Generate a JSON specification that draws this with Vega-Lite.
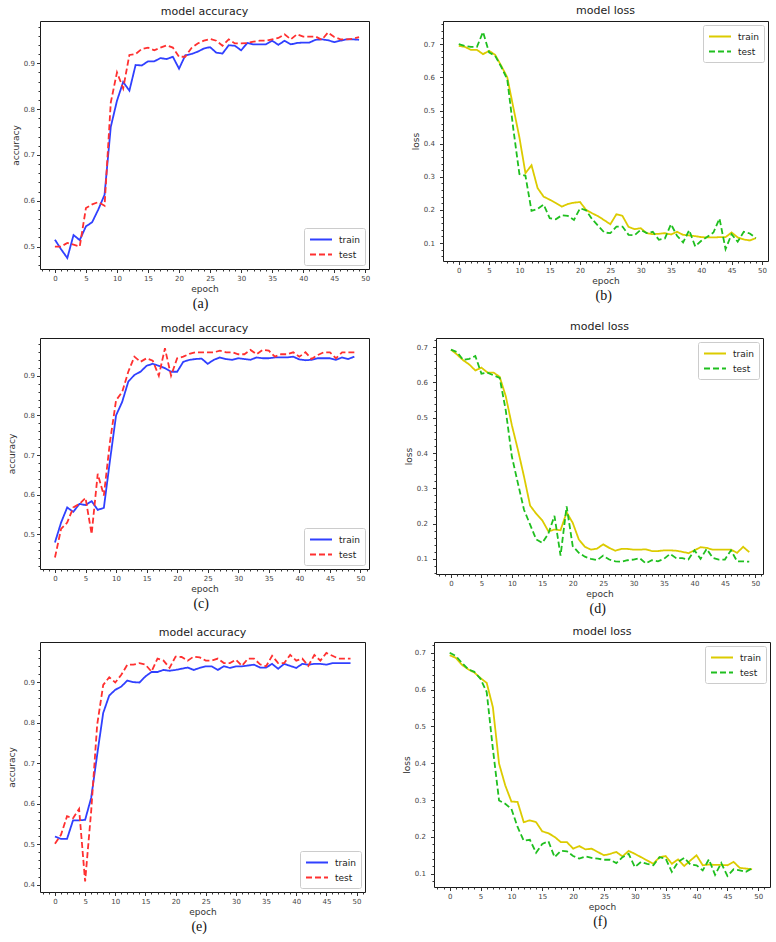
{
"$schema": "https://vega.github.io/schema/vega-lite/v6.json",
"padding": {"left": 6, "top": 4, "right": 2, "bottom": 2},
"background": "white",
"config": {
  "font": "DejaVu Sans",
  "view": {"stroke": "#1a1a1a", "strokeWidth": 1},
  "axis": {"grid": false, "domain": false, "labelFont": "DejaVu Sans", "labelFontSize": 7, "labelColor": "#444", "tickColor": "#333", "titleFont": "DejaVu Sans", "titleFontSize": 9, "titleFontWeight": "normal", "titleColor": "#333", "labelPadding": 2, "titlePadding": 3, "labelOverlap": false, "labelFlush": false},
  "title": {"font": "DejaVu Sans", "fontSize": 11, "fontWeight": "normal", "color": "#222", "frame": "group", "offset": 4},
  "legend": {"symbolType": "M-1,0H3", "symbolSize": 121, "symbolStrokeWidth": 1.8, "labelFont": "DejaVu Sans", "labelFontSize": 9, "labelColor": "#222", "fillColor": "white", "strokeColor": "#cccccc", "padding": 5, "cornerRadius": 2, "offset": 4, "rowPadding": 3, "labelOffset": 17, "title": null}
},
"datasets": {
"a": [
{"epoch":0,"series":"train","value":0.515},{"epoch":1,"series":"train","value":0.494},{"epoch":2,"series":"train","value":0.475},{"epoch":3,"series":"train","value":0.525},{"epoch":4,"series":"train","value":0.514},{"epoch":5,"series":"train","value":0.544},{"epoch":6,"series":"train","value":0.553},{"epoch":7,"series":"train","value":0.581},{"epoch":8,"series":"train","value":0.613},{"epoch":9,"series":"train","value":0.761},{"epoch":10,"series":"train","value":0.818},{"epoch":11,"series":"train","value":0.859},{"epoch":12,"series":"train","value":0.840},{"epoch":13,"series":"train","value":0.896},{"epoch":14,"series":"train","value":0.895},{"epoch":15,"series":"train","value":0.904},{"epoch":16,"series":"train","value":0.904},{"epoch":17,"series":"train","value":0.911},{"epoch":18,"series":"train","value":0.909},{"epoch":19,"series":"train","value":0.914},{"epoch":20,"series":"train","value":0.888},{"epoch":21,"series":"train","value":0.917},{"epoch":22,"series":"train","value":0.920},{"epoch":23,"series":"train","value":0.925},{"epoch":24,"series":"train","value":0.932},{"epoch":25,"series":"train","value":0.935},{"epoch":26,"series":"train","value":0.923},{"epoch":27,"series":"train","value":0.921},{"epoch":28,"series":"train","value":0.939},{"epoch":29,"series":"train","value":0.938},{"epoch":30,"series":"train","value":0.928},{"epoch":31,"series":"train","value":0.944},{"epoch":32,"series":"train","value":0.941},{"epoch":33,"series":"train","value":0.941},{"epoch":34,"series":"train","value":0.941},{"epoch":35,"series":"train","value":0.949},{"epoch":36,"series":"train","value":0.940},{"epoch":37,"series":"train","value":0.949},{"epoch":38,"series":"train","value":0.941},{"epoch":39,"series":"train","value":0.944},{"epoch":40,"series":"train","value":0.945},{"epoch":41,"series":"train","value":0.945},{"epoch":42,"series":"train","value":0.951},{"epoch":43,"series":"train","value":0.952},{"epoch":44,"series":"train","value":0.950},{"epoch":45,"series":"train","value":0.946},{"epoch":46,"series":"train","value":0.949},{"epoch":47,"series":"train","value":0.952},{"epoch":48,"series":"train","value":0.952},{"epoch":49,"series":"train","value":0.951},
{"epoch":0,"series":"test","value":0.500},{"epoch":1,"series":"test","value":0.500},{"epoch":2,"series":"test","value":0.508},{"epoch":3,"series":"test","value":0.504},{"epoch":4,"series":"test","value":0.500},{"epoch":5,"series":"test","value":0.584},{"epoch":6,"series":"test","value":0.592},{"epoch":7,"series":"test","value":0.597},{"epoch":8,"series":"test","value":0.589},{"epoch":9,"series":"test","value":0.814},{"epoch":10,"series":"test","value":0.880},{"epoch":11,"series":"test","value":0.845},{"epoch":12,"series":"test","value":0.918},{"epoch":13,"series":"test","value":0.920},{"epoch":14,"series":"test","value":0.931},{"epoch":15,"series":"test","value":0.934},{"epoch":16,"series":"test","value":0.928},{"epoch":17,"series":"test","value":0.934},{"epoch":18,"series":"test","value":0.939},{"epoch":19,"series":"test","value":0.934},{"epoch":20,"series":"test","value":0.914},{"epoch":21,"series":"test","value":0.914},{"epoch":22,"series":"test","value":0.933},{"epoch":23,"series":"test","value":0.943},{"epoch":24,"series":"test","value":0.949},{"epoch":25,"series":"test","value":0.953},{"epoch":26,"series":"test","value":0.949},{"epoch":27,"series":"test","value":0.938},{"epoch":28,"series":"test","value":0.952},{"epoch":29,"series":"test","value":0.943},{"epoch":30,"series":"test","value":0.943},{"epoch":31,"series":"test","value":0.944},{"epoch":32,"series":"test","value":0.947},{"epoch":33,"series":"test","value":0.949},{"epoch":34,"series":"test","value":0.949},{"epoch":35,"series":"test","value":0.952},{"epoch":36,"series":"test","value":0.955},{"epoch":37,"series":"test","value":0.963},{"epoch":38,"series":"test","value":0.952},{"epoch":39,"series":"test","value":0.963},{"epoch":40,"series":"test","value":0.958},{"epoch":41,"series":"test","value":0.958},{"epoch":42,"series":"test","value":0.958},{"epoch":43,"series":"test","value":0.951},{"epoch":44,"series":"test","value":0.967},{"epoch":45,"series":"test","value":0.957},{"epoch":46,"series":"test","value":0.952},{"epoch":47,"series":"test","value":0.952},{"epoch":48,"series":"test","value":0.953},{"epoch":49,"series":"test","value":0.957}
],
"b": [
{"epoch":0,"series":"train","value":0.695},{"epoch":1,"series":"train","value":0.692},{"epoch":2,"series":"train","value":0.683},{"epoch":3,"series":"train","value":0.683},{"epoch":4,"series":"train","value":0.670},{"epoch":5,"series":"train","value":0.680},{"epoch":6,"series":"train","value":0.668},{"epoch":7,"series":"train","value":0.635},{"epoch":8,"series":"train","value":0.600},{"epoch":9,"series":"train","value":0.509},{"epoch":10,"series":"train","value":0.419},{"epoch":11,"series":"train","value":0.311},{"epoch":12,"series":"train","value":0.335},{"epoch":13,"series":"train","value":0.266},{"epoch":14,"series":"train","value":0.240},{"epoch":15,"series":"train","value":0.231},{"epoch":16,"series":"train","value":0.221},{"epoch":17,"series":"train","value":0.210},{"epoch":18,"series":"train","value":0.218},{"epoch":19,"series":"train","value":0.222},{"epoch":20,"series":"train","value":0.224},{"epoch":21,"series":"train","value":0.200},{"epoch":22,"series":"train","value":0.190},{"epoch":23,"series":"train","value":0.181},{"epoch":24,"series":"train","value":0.169},{"epoch":25,"series":"train","value":0.157},{"epoch":26,"series":"train","value":0.187},{"epoch":27,"series":"train","value":0.182},{"epoch":28,"series":"train","value":0.149},{"epoch":29,"series":"train","value":0.142},{"epoch":30,"series":"train","value":0.145},{"epoch":31,"series":"train","value":0.130},{"epoch":32,"series":"train","value":0.127},{"epoch":33,"series":"train","value":0.128},{"epoch":34,"series":"train","value":0.130},{"epoch":35,"series":"train","value":0.126},{"epoch":36,"series":"train","value":0.134},{"epoch":37,"series":"train","value":0.125},{"epoch":38,"series":"train","value":0.123},{"epoch":39,"series":"train","value":0.121},{"epoch":40,"series":"train","value":0.118},{"epoch":41,"series":"train","value":0.117},{"epoch":42,"series":"train","value":0.117},{"epoch":43,"series":"train","value":0.118},{"epoch":44,"series":"train","value":0.118},{"epoch":45,"series":"train","value":0.132},{"epoch":46,"series":"train","value":0.117},{"epoch":47,"series":"train","value":0.111},{"epoch":48,"series":"train","value":0.108},{"epoch":49,"series":"train","value":0.115},
{"epoch":0,"series":"test","value":0.700},{"epoch":1,"series":"test","value":0.695},{"epoch":2,"series":"test","value":0.692},{"epoch":3,"series":"test","value":0.692},{"epoch":4,"series":"test","value":0.737},{"epoch":5,"series":"test","value":0.675},{"epoch":6,"series":"test","value":0.665},{"epoch":7,"series":"test","value":0.632},{"epoch":8,"series":"test","value":0.594},{"epoch":9,"series":"test","value":0.444},{"epoch":10,"series":"test","value":0.308},{"epoch":11,"series":"test","value":0.303},{"epoch":12,"series":"test","value":0.197},{"epoch":13,"series":"test","value":0.203},{"epoch":14,"series":"test","value":0.216},{"epoch":15,"series":"test","value":0.175},{"epoch":16,"series":"test","value":0.172},{"epoch":17,"series":"test","value":0.184},{"epoch":18,"series":"test","value":0.182},{"epoch":19,"series":"test","value":0.170},{"epoch":20,"series":"test","value":0.205},{"epoch":21,"series":"test","value":0.199},{"epoch":22,"series":"test","value":0.172},{"epoch":23,"series":"test","value":0.152},{"epoch":24,"series":"test","value":0.132},{"epoch":25,"series":"test","value":0.130},{"epoch":26,"series":"test","value":0.150},{"epoch":27,"series":"test","value":0.150},{"epoch":28,"series":"test","value":0.125},{"epoch":29,"series":"test","value":0.124},{"epoch":30,"series":"test","value":0.140},{"epoch":31,"series":"test","value":0.130},{"epoch":32,"series":"test","value":0.134},{"epoch":33,"series":"test","value":0.110},{"epoch":34,"series":"test","value":0.114},{"epoch":35,"series":"test","value":0.157},{"epoch":36,"series":"test","value":0.122},{"epoch":37,"series":"test","value":0.102},{"epoch":38,"series":"test","value":0.139},{"epoch":39,"series":"test","value":0.090},{"epoch":40,"series":"test","value":0.107},{"epoch":41,"series":"test","value":0.119},{"epoch":42,"series":"test","value":0.132},{"epoch":43,"series":"test","value":0.174},{"epoch":44,"series":"test","value":0.082},{"epoch":45,"series":"test","value":0.127},{"epoch":46,"series":"test","value":0.104},{"epoch":47,"series":"test","value":0.134},{"epoch":48,"series":"test","value":0.129},{"epoch":49,"series":"test","value":0.115}
],
"c": [
{"epoch":0,"series":"train","value":0.480},{"epoch":1,"series":"train","value":0.530},{"epoch":2,"series":"train","value":0.568},{"epoch":3,"series":"train","value":0.557},{"epoch":4,"series":"train","value":0.577},{"epoch":5,"series":"train","value":0.574},{"epoch":6,"series":"train","value":0.584},{"epoch":7,"series":"train","value":0.562},{"epoch":8,"series":"train","value":0.567},{"epoch":9,"series":"train","value":0.686},{"epoch":10,"series":"train","value":0.800},{"epoch":11,"series":"train","value":0.834},{"epoch":12,"series":"train","value":0.885},{"epoch":13,"series":"train","value":0.902},{"epoch":14,"series":"train","value":0.910},{"epoch":15,"series":"train","value":0.925},{"epoch":16,"series":"train","value":0.930},{"epoch":17,"series":"train","value":0.925},{"epoch":18,"series":"train","value":0.919},{"epoch":19,"series":"train","value":0.910},{"epoch":20,"series":"train","value":0.910},{"epoch":21,"series":"train","value":0.935},{"epoch":22,"series":"train","value":0.940},{"epoch":23,"series":"train","value":0.942},{"epoch":24,"series":"train","value":0.943},{"epoch":25,"series":"train","value":0.930},{"epoch":26,"series":"train","value":0.940},{"epoch":27,"series":"train","value":0.946},{"epoch":28,"series":"train","value":0.942},{"epoch":29,"series":"train","value":0.940},{"epoch":30,"series":"train","value":0.944},{"epoch":31,"series":"train","value":0.942},{"epoch":32,"series":"train","value":0.940},{"epoch":33,"series":"train","value":0.946},{"epoch":34,"series":"train","value":0.944},{"epoch":35,"series":"train","value":0.944},{"epoch":36,"series":"train","value":0.946},{"epoch":37,"series":"train","value":0.946},{"epoch":38,"series":"train","value":0.946},{"epoch":39,"series":"train","value":0.948},{"epoch":40,"series":"train","value":0.941},{"epoch":41,"series":"train","value":0.939},{"epoch":42,"series":"train","value":0.940},{"epoch":43,"series":"train","value":0.944},{"epoch":44,"series":"train","value":0.944},{"epoch":45,"series":"train","value":0.944},{"epoch":46,"series":"train","value":0.940},{"epoch":47,"series":"train","value":0.946},{"epoch":48,"series":"train","value":0.942},{"epoch":49,"series":"train","value":0.948},
{"epoch":0,"series":"test","value":0.442},{"epoch":1,"series":"test","value":0.514},{"epoch":2,"series":"test","value":0.530},{"epoch":3,"series":"test","value":0.568},{"epoch":4,"series":"test","value":0.577},{"epoch":5,"series":"test","value":0.592},{"epoch":6,"series":"test","value":0.501},{"epoch":7,"series":"test","value":0.653},{"epoch":8,"series":"test","value":0.598},{"epoch":9,"series":"test","value":0.733},{"epoch":10,"series":"test","value":0.838},{"epoch":11,"series":"test","value":0.859},{"epoch":12,"series":"test","value":0.910},{"epoch":13,"series":"test","value":0.948},{"epoch":14,"series":"test","value":0.935},{"epoch":15,"series":"test","value":0.944},{"epoch":16,"series":"test","value":0.938},{"epoch":17,"series":"test","value":0.900},{"epoch":18,"series":"test","value":0.969},{"epoch":19,"series":"test","value":0.900},{"epoch":20,"series":"test","value":0.944},{"epoch":21,"series":"test","value":0.948},{"epoch":22,"series":"test","value":0.955},{"epoch":23,"series":"test","value":0.959},{"epoch":24,"series":"test","value":0.959},{"epoch":25,"series":"test","value":0.959},{"epoch":26,"series":"test","value":0.959},{"epoch":27,"series":"test","value":0.963},{"epoch":28,"series":"test","value":0.959},{"epoch":29,"series":"test","value":0.959},{"epoch":30,"series":"test","value":0.954},{"epoch":31,"series":"test","value":0.954},{"epoch":32,"series":"test","value":0.965},{"epoch":33,"series":"test","value":0.954},{"epoch":34,"series":"test","value":0.965},{"epoch":35,"series":"test","value":0.963},{"epoch":36,"series":"test","value":0.948},{"epoch":37,"series":"test","value":0.954},{"epoch":38,"series":"test","value":0.954},{"epoch":39,"series":"test","value":0.959},{"epoch":40,"series":"test","value":0.948},{"epoch":41,"series":"test","value":0.959},{"epoch":42,"series":"test","value":0.942},{"epoch":43,"series":"test","value":0.952},{"epoch":44,"series":"test","value":0.959},{"epoch":45,"series":"test","value":0.959},{"epoch":46,"series":"test","value":0.944},{"epoch":47,"series":"test","value":0.959},{"epoch":48,"series":"test","value":0.959},{"epoch":49,"series":"test","value":0.959}
],
"d": [
{"epoch":0,"series":"train","value":0.693},{"epoch":1,"series":"train","value":0.679},{"epoch":2,"series":"train","value":0.663},{"epoch":3,"series":"train","value":0.651},{"epoch":4,"series":"train","value":0.634},{"epoch":5,"series":"train","value":0.642},{"epoch":6,"series":"train","value":0.628},{"epoch":7,"series":"train","value":0.628},{"epoch":8,"series":"train","value":0.616},{"epoch":9,"series":"train","value":0.561},{"epoch":10,"series":"train","value":0.479},{"epoch":11,"series":"train","value":0.409},{"epoch":12,"series":"train","value":0.333},{"epoch":13,"series":"train","value":0.251},{"epoch":14,"series":"train","value":0.228},{"epoch":15,"series":"train","value":0.209},{"epoch":16,"series":"train","value":0.178},{"epoch":17,"series":"train","value":0.183},{"epoch":18,"series":"train","value":0.181},{"epoch":19,"series":"train","value":0.232},{"epoch":20,"series":"train","value":0.202},{"epoch":21,"series":"train","value":0.155},{"epoch":22,"series":"train","value":0.134},{"epoch":23,"series":"train","value":0.126},{"epoch":24,"series":"train","value":0.129},{"epoch":25,"series":"train","value":0.141},{"epoch":26,"series":"train","value":0.131},{"epoch":27,"series":"train","value":0.123},{"epoch":28,"series":"train","value":0.128},{"epoch":29,"series":"train","value":0.128},{"epoch":30,"series":"train","value":0.126},{"epoch":31,"series":"train","value":0.126},{"epoch":32,"series":"train","value":0.127},{"epoch":33,"series":"train","value":0.122},{"epoch":34,"series":"train","value":0.122},{"epoch":35,"series":"train","value":0.124},{"epoch":36,"series":"train","value":0.124},{"epoch":37,"series":"train","value":0.123},{"epoch":38,"series":"train","value":0.120},{"epoch":39,"series":"train","value":0.116},{"epoch":40,"series":"train","value":0.124},{"epoch":41,"series":"train","value":0.133},{"epoch":42,"series":"train","value":0.131},{"epoch":43,"series":"train","value":0.126},{"epoch":44,"series":"train","value":0.126},{"epoch":45,"series":"train","value":0.126},{"epoch":46,"series":"train","value":0.126},{"epoch":47,"series":"train","value":0.117},{"epoch":48,"series":"train","value":0.134},{"epoch":49,"series":"train","value":0.119},
{"epoch":0,"series":"test","value":0.693},{"epoch":1,"series":"test","value":0.686},{"epoch":2,"series":"test","value":0.664},{"epoch":3,"series":"test","value":0.667},{"epoch":4,"series":"test","value":0.675},{"epoch":5,"series":"test","value":0.625},{"epoch":6,"series":"test","value":0.628},{"epoch":7,"series":"test","value":0.620},{"epoch":8,"series":"test","value":0.613},{"epoch":9,"series":"test","value":0.521},{"epoch":10,"series":"test","value":0.390},{"epoch":11,"series":"test","value":0.314},{"epoch":12,"series":"test","value":0.239},{"epoch":13,"series":"test","value":0.197},{"epoch":14,"series":"test","value":0.155},{"epoch":15,"series":"test","value":0.145},{"epoch":16,"series":"test","value":0.171},{"epoch":17,"series":"test","value":0.222},{"epoch":18,"series":"test","value":0.109},{"epoch":19,"series":"test","value":0.249},{"epoch":20,"series":"test","value":0.136},{"epoch":21,"series":"test","value":0.117},{"epoch":22,"series":"test","value":0.106},{"epoch":23,"series":"test","value":0.100},{"epoch":24,"series":"test","value":0.096},{"epoch":25,"series":"test","value":0.109},{"epoch":26,"series":"test","value":0.098},{"epoch":27,"series":"test","value":0.093},{"epoch":28,"series":"test","value":0.092},{"epoch":29,"series":"test","value":0.096},{"epoch":30,"series":"test","value":0.098},{"epoch":31,"series":"test","value":0.102},{"epoch":32,"series":"test","value":0.087},{"epoch":33,"series":"test","value":0.096},{"epoch":34,"series":"test","value":0.093},{"epoch":35,"series":"test","value":0.100},{"epoch":36,"series":"test","value":0.114},{"epoch":37,"series":"test","value":0.102},{"epoch":38,"series":"test","value":0.102},{"epoch":39,"series":"test","value":0.098},{"epoch":40,"series":"test","value":0.124},{"epoch":41,"series":"test","value":0.100},{"epoch":42,"series":"test","value":0.128},{"epoch":43,"series":"test","value":0.103},{"epoch":44,"series":"test","value":0.098},{"epoch":45,"series":"test","value":0.098},{"epoch":46,"series":"test","value":0.124},{"epoch":47,"series":"test","value":0.093},{"epoch":48,"series":"test","value":0.093},{"epoch":49,"series":"test","value":0.092}
],
"e": [
{"epoch":0,"series":"train","value":0.519},{"epoch":1,"series":"train","value":0.513},{"epoch":2,"series":"train","value":0.513},{"epoch":3,"series":"train","value":0.559},{"epoch":4,"series":"train","value":0.559},{"epoch":5,"series":"train","value":0.560},{"epoch":6,"series":"train","value":0.614},{"epoch":7,"series":"train","value":0.721},{"epoch":8,"series":"train","value":0.824},{"epoch":9,"series":"train","value":0.867},{"epoch":10,"series":"train","value":0.881},{"epoch":11,"series":"train","value":0.889},{"epoch":12,"series":"train","value":0.904},{"epoch":13,"series":"train","value":0.900},{"epoch":14,"series":"train","value":0.899},{"epoch":15,"series":"train","value":0.914},{"epoch":16,"series":"train","value":0.925},{"epoch":17,"series":"train","value":0.925},{"epoch":18,"series":"train","value":0.930},{"epoch":19,"series":"train","value":0.928},{"epoch":20,"series":"train","value":0.930},{"epoch":21,"series":"train","value":0.933},{"epoch":22,"series":"train","value":0.936},{"epoch":23,"series":"train","value":0.930},{"epoch":24,"series":"train","value":0.935},{"epoch":25,"series":"train","value":0.939},{"epoch":26,"series":"train","value":0.939},{"epoch":27,"series":"train","value":0.930},{"epoch":28,"series":"train","value":0.939},{"epoch":29,"series":"train","value":0.935},{"epoch":30,"series":"train","value":0.939},{"epoch":31,"series":"train","value":0.939},{"epoch":32,"series":"train","value":0.941},{"epoch":33,"series":"train","value":0.943},{"epoch":34,"series":"train","value":0.936},{"epoch":35,"series":"train","value":0.936},{"epoch":36,"series":"train","value":0.945},{"epoch":37,"series":"train","value":0.933},{"epoch":38,"series":"train","value":0.945},{"epoch":39,"series":"train","value":0.940},{"epoch":40,"series":"train","value":0.935},{"epoch":41,"series":"train","value":0.945},{"epoch":42,"series":"train","value":0.943},{"epoch":43,"series":"train","value":0.945},{"epoch":44,"series":"train","value":0.945},{"epoch":45,"series":"train","value":0.943},{"epoch":46,"series":"train","value":0.947},{"epoch":47,"series":"train","value":0.947},{"epoch":48,"series":"train","value":0.947},{"epoch":49,"series":"train","value":0.947},
{"epoch":0,"series":"test","value":0.501},{"epoch":1,"series":"test","value":0.523},{"epoch":2,"series":"test","value":0.569},{"epoch":3,"series":"test","value":0.564},{"epoch":4,"series":"test","value":0.587},{"epoch":5,"series":"test","value":0.408},{"epoch":6,"series":"test","value":0.581},{"epoch":7,"series":"test","value":0.795},{"epoch":8,"series":"test","value":0.893},{"epoch":9,"series":"test","value":0.912},{"epoch":10,"series":"test","value":0.899},{"epoch":11,"series":"test","value":0.918},{"epoch":12,"series":"test","value":0.943},{"epoch":13,"series":"test","value":0.943},{"epoch":14,"series":"test","value":0.947},{"epoch":15,"series":"test","value":0.943},{"epoch":16,"series":"test","value":0.926},{"epoch":17,"series":"test","value":0.958},{"epoch":18,"series":"test","value":0.953},{"epoch":19,"series":"test","value":0.935},{"epoch":20,"series":"test","value":0.963},{"epoch":21,"series":"test","value":0.962},{"epoch":22,"series":"test","value":0.953},{"epoch":23,"series":"test","value":0.963},{"epoch":24,"series":"test","value":0.961},{"epoch":25,"series":"test","value":0.953},{"epoch":26,"series":"test","value":0.953},{"epoch":27,"series":"test","value":0.958},{"epoch":28,"series":"test","value":0.947},{"epoch":29,"series":"test","value":0.947},{"epoch":30,"series":"test","value":0.955},{"epoch":31,"series":"test","value":0.940},{"epoch":32,"series":"test","value":0.958},{"epoch":33,"series":"test","value":0.958},{"epoch":34,"series":"test","value":0.944},{"epoch":35,"series":"test","value":0.939},{"epoch":36,"series":"test","value":0.965},{"epoch":37,"series":"test","value":0.947},{"epoch":38,"series":"test","value":0.947},{"epoch":39,"series":"test","value":0.967},{"epoch":40,"series":"test","value":0.953},{"epoch":41,"series":"test","value":0.958},{"epoch":42,"series":"test","value":0.940},{"epoch":43,"series":"test","value":0.967},{"epoch":44,"series":"test","value":0.953},{"epoch":45,"series":"test","value":0.972},{"epoch":46,"series":"test","value":0.965},{"epoch":47,"series":"test","value":0.958},{"epoch":48,"series":"test","value":0.958},{"epoch":49,"series":"test","value":0.958}
],
"f": [
{"epoch":0,"series":"train","value":0.693},{"epoch":1,"series":"train","value":0.686},{"epoch":2,"series":"train","value":0.667},{"epoch":3,"series":"train","value":0.655},{"epoch":4,"series":"train","value":0.646},{"epoch":5,"series":"train","value":0.631},{"epoch":6,"series":"train","value":0.618},{"epoch":7,"series":"train","value":0.552},{"epoch":8,"series":"train","value":0.399},{"epoch":9,"series":"train","value":0.340},{"epoch":10,"series":"train","value":0.296},{"epoch":11,"series":"train","value":0.295},{"epoch":12,"series":"train","value":0.240},{"epoch":13,"series":"train","value":0.245},{"epoch":14,"series":"train","value":0.240},{"epoch":15,"series":"train","value":0.215},{"epoch":16,"series":"train","value":0.210},{"epoch":17,"series":"train","value":0.200},{"epoch":18,"series":"train","value":0.186},{"epoch":19,"series":"train","value":0.186},{"epoch":20,"series":"train","value":0.168},{"epoch":21,"series":"train","value":0.175},{"epoch":22,"series":"train","value":0.166},{"epoch":23,"series":"train","value":0.168},{"epoch":24,"series":"train","value":0.159},{"epoch":25,"series":"train","value":0.150},{"epoch":26,"series":"train","value":0.154},{"epoch":27,"series":"train","value":0.159},{"epoch":28,"series":"train","value":0.147},{"epoch":29,"series":"train","value":0.162},{"epoch":30,"series":"train","value":0.154},{"epoch":31,"series":"train","value":0.145},{"epoch":32,"series":"train","value":0.136},{"epoch":33,"series":"train","value":0.127},{"epoch":34,"series":"train","value":0.145},{"epoch":35,"series":"train","value":0.148},{"epoch":36,"series":"train","value":0.127},{"epoch":37,"series":"train","value":0.139},{"epoch":38,"series":"train","value":0.121},{"epoch":39,"series":"train","value":0.136},{"epoch":40,"series":"train","value":0.150},{"epoch":41,"series":"train","value":0.123},{"epoch":42,"series":"train","value":0.125},{"epoch":43,"series":"train","value":0.124},{"epoch":44,"series":"train","value":0.124},{"epoch":45,"series":"train","value":0.123},{"epoch":46,"series":"train","value":0.132},{"epoch":47,"series":"train","value":0.116},{"epoch":48,"series":"train","value":0.114},{"epoch":49,"series":"train","value":0.112},
{"epoch":0,"series":"test","value":0.700},{"epoch":1,"series":"test","value":0.691},{"epoch":2,"series":"test","value":0.672},{"epoch":3,"series":"test","value":0.655},{"epoch":4,"series":"test","value":0.648},{"epoch":5,"series":"test","value":0.629},{"epoch":6,"series":"test","value":0.593},{"epoch":7,"series":"test","value":0.439},{"epoch":8,"series":"test","value":0.299},{"epoch":9,"series":"test","value":0.290},{"epoch":10,"series":"test","value":0.276},{"epoch":11,"series":"test","value":0.227},{"epoch":12,"series":"test","value":0.190},{"epoch":13,"series":"test","value":0.192},{"epoch":14,"series":"test","value":0.157},{"epoch":15,"series":"test","value":0.181},{"epoch":16,"series":"test","value":0.188},{"epoch":17,"series":"test","value":0.145},{"epoch":18,"series":"test","value":0.162},{"epoch":19,"series":"test","value":0.161},{"epoch":20,"series":"test","value":0.148},{"epoch":21,"series":"test","value":0.141},{"epoch":22,"series":"test","value":0.147},{"epoch":23,"series":"test","value":0.143},{"epoch":24,"series":"test","value":0.141},{"epoch":25,"series":"test","value":0.138},{"epoch":26,"series":"test","value":0.138},{"epoch":27,"series":"test","value":0.129},{"epoch":28,"series":"test","value":0.145},{"epoch":29,"series":"test","value":0.154},{"epoch":30,"series":"test","value":0.118},{"epoch":31,"series":"test","value":0.132},{"epoch":32,"series":"test","value":0.127},{"epoch":33,"series":"test","value":0.123},{"epoch":34,"series":"test","value":0.145},{"epoch":35,"series":"test","value":0.141},{"epoch":36,"series":"test","value":0.105},{"epoch":37,"series":"test","value":0.132},{"epoch":38,"series":"test","value":0.143},{"epoch":39,"series":"test","value":0.125},{"epoch":40,"series":"test","value":0.123},{"epoch":41,"series":"test","value":0.109},{"epoch":42,"series":"test","value":0.139},{"epoch":43,"series":"test","value":0.097},{"epoch":44,"series":"test","value":0.129},{"epoch":45,"series":"test","value":0.094},{"epoch":46,"series":"test","value":0.112},{"epoch":47,"series":"test","value":0.109},{"epoch":48,"series":"test","value":0.105},{"epoch":49,"series":"test","value":0.115}
]
},
"resolve": {"scale": {"color": "independent", "strokeDash": "independent"}, "legend": {"color": "independent", "strokeDash": "independent"}},
"spacing": 9,
"vconcat": [
{
"resolve": {"scale": {"color": "independent", "strokeDash": "independent"}, "legend": {"color": "independent", "strokeDash": "independent"}},
"spacing": 39,
"hconcat": [
{"title": {"text": "(a)", "orient": "bottom", "font": "Liberation Serif", "fontSize": 14, "color": "#111", "offset": 3, "frame": "bounds", "anchor": "middle", "dx": 10},
 "resolve": {"scale": {"color": "independent", "strokeDash": "independent"}, "legend": {"color": "independent", "strokeDash": "independent"}},
 "vconcat": [{
  "width": 329, "height": 248,
  "title": {"text": "model accuracy"},
  "data": {"name": "a"},
  "mark": {"type": "line", "strokeWidth": 1.8, "clip": true},
  "encoding": {
   "x": {"field": "epoch", "type": "quantitative", "scale": {"domain": [-2.4, 50.6], "nice": false, "zero": false},
     "axis": {"title": "epoch", "format": "d", "values": [-2,-1,0,1,2,3,4,5,6,7,8,9,10,11,12,13,14,15,16,17,18,19,20,21,22,23,24,25,26,27,28,29,30,31,32,33,34,35,36,37,38,39,40,41,42,43,44,45,46,47,48,49,50],
       "labelExpr": "datum.value % 5 === 0 ? datum.label : ''",
       "tickSize": {"condition": {"test": "datum.value % 5 === 0", "value": 3.5}, "value": 2}}},
   "y": {"field": "value", "type": "quantitative", "scale": {"domain": [0.451, 0.992], "nice": false, "zero": false},
     "axis": {"title": "accuracy", "values": [0.46,0.48,0.5,0.52,0.54,0.56,0.58,0.6,0.62,0.64,0.66,0.68,0.7,0.72,0.74,0.76,0.78,0.8,0.82,0.84,0.86,0.88,0.9,0.92,0.94,0.96,0.98],
       "labelExpr": "round(datum.value*100) % 10 === 0 ? format(datum.value, '.1f') : ''",
       "tickSize": {"condition": {"test": "round(datum.value*100) % 10 === 0", "value": 3.5}, "value": 2}}},
   "color": {"field": "series", "type": "nominal", "scale": {"domain": ["train", "test"], "range": ["#3040ff", "#ff3030"]}, "legend": {"orient": "bottom-right"}},
   "strokeDash": {"field": "series", "type": "nominal", "scale": {"domain": ["train", "test"], "range": [[1, 0], [6, 3]]}, "legend": {"orient": "bottom-right"}}
  }
 }]
},
{"title": {"text": "(b)", "orient": "bottom", "font": "Liberation Serif", "fontSize": 14, "color": "#111", "offset": 3, "frame": "bounds", "anchor": "middle", "dx": 14},
 "resolve": {"scale": {"color": "independent", "strokeDash": "independent"}, "legend": {"color": "independent", "strokeDash": "independent"}},
 "vconcat": [{
  "width": 325, "height": 240,
  "title": {"text": "model loss"},
  "data": {"name": "b"},
  "mark": {"type": "line", "strokeWidth": 1.8, "clip": true},
  "encoding": {
   "x": {"field": "epoch", "type": "quantitative", "scale": {"domain": [-2.6, 51.0], "nice": false, "zero": false},
     "axis": {"title": "epoch", "format": "d", "values": [-2,-1,0,1,2,3,4,5,6,7,8,9,10,11,12,13,14,15,16,17,18,19,20,21,22,23,24,25,26,27,28,29,30,31,32,33,34,35,36,37,38,39,40,41,42,43,44,45,46,47,48,49,50],
       "labelExpr": "datum.value % 5 === 0 ? datum.label : ''",
       "tickSize": {"condition": {"test": "datum.value % 5 === 0", "value": 3.5}, "value": 2}}},
   "y": {"field": "value", "type": "quantitative", "scale": {"domain": [0.046, 0.770], "nice": false, "zero": false},
     "axis": {"title": "loss", "labelPadding": 5, "values": [0.06,0.08,0.1,0.12,0.14,0.16,0.18,0.2,0.22,0.24,0.26,0.28,0.3,0.32,0.34,0.36,0.38,0.4,0.42,0.44,0.46,0.48,0.5,0.52,0.54,0.56,0.58,0.6,0.62,0.64,0.66,0.68,0.7,0.72,0.74,0.76],
       "labelExpr": "round(datum.value*100) % 10 === 0 ? format(datum.value, '.1f') : ''",
       "tickSize": {"condition": {"test": "round(datum.value*100) % 10 === 0", "value": 3.5}, "value": 2}}},
   "color": {"field": "series", "type": "nominal", "scale": {"domain": ["train", "test"], "range": ["#dccb00", "#1fbf1f"]}, "legend": {"orient": "top-right"}},
   "strokeDash": {"field": "series", "type": "nominal", "scale": {"domain": ["train", "test"], "range": [[1, 0], [6, 3]]}, "legend": {"orient": "top-right"}}
  }
 }]
}
]
},
{
"resolve": {"scale": {"color": "independent", "strokeDash": "independent"}, "legend": {"color": "independent", "strokeDash": "independent"}},
"spacing": 33,
"hconcat": [
{"title": {"text": "(c)", "orient": "bottom", "font": "Liberation Serif", "fontSize": 14, "color": "#111", "offset": 3, "frame": "bounds", "anchor": "middle", "dx": 13},
 "resolve": {"scale": {"color": "independent", "strokeDash": "independent"}, "legend": {"color": "independent", "strokeDash": "independent"}},
 "vconcat": [{
  "width": 329, "height": 231,
  "title": {"text": "model accuracy"},
  "data": {"name": "c"},
  "mark": {"type": "line", "strokeWidth": 1.8, "clip": true},
  "encoding": {
   "x": {"field": "epoch", "type": "quantitative", "scale": {"domain": [-2.45, 51.4], "nice": false, "zero": false},
     "axis": {"title": "epoch", "format": "d", "values": [-2,-1,0,1,2,3,4,5,6,7,8,9,10,11,12,13,14,15,16,17,18,19,20,21,22,23,24,25,26,27,28,29,30,31,32,33,34,35,36,37,38,39,40,41,42,43,44,45,46,47,48,49,50,51],
       "labelExpr": "datum.value % 5 === 0 ? datum.label : ''",
       "tickSize": {"condition": {"test": "datum.value % 5 === 0", "value": 3.5}, "value": 2}}},
   "y": {"field": "value", "type": "quantitative", "scale": {"domain": [0.413, 0.995], "nice": false, "zero": false},
     "axis": {"title": "accuracy", "titlePadding": 7, "values": [0.42,0.44,0.46,0.48,0.5,0.52,0.54,0.56,0.58,0.6,0.62,0.64,0.66,0.68,0.7,0.72,0.74,0.76,0.78,0.8,0.82,0.84,0.86,0.88,0.9,0.92,0.94,0.96,0.98],
       "labelExpr": "round(datum.value*100) % 10 === 0 ? format(datum.value, '.1f') : ''",
       "tickSize": {"condition": {"test": "round(datum.value*100) % 10 === 0", "value": 3.5}, "value": 2}}},
   "color": {"field": "series", "type": "nominal", "scale": {"domain": ["train", "test"], "range": ["#3040ff", "#ff3030"]}, "legend": {"orient": "bottom-right"}},
   "strokeDash": {"field": "series", "type": "nominal", "scale": {"domain": ["train", "test"], "range": [[1, 0], [6, 3]]}, "legend": {"orient": "bottom-right"}}
  }
 }]
},
{"title": {"text": "(d)", "orient": "bottom", "font": "Liberation Serif", "fontSize": 14, "color": "#111", "offset": 3, "frame": "bounds", "anchor": "middle", "dx": 14},
 "resolve": {"scale": {"color": "independent", "strokeDash": "independent"}, "legend": {"color": "independent", "strokeDash": "independent"}},
 "vconcat": [{
  "width": 327, "height": 236,
  "title": {"text": "model loss"},
  "data": {"name": "d"},
  "mark": {"type": "line", "strokeWidth": 1.8, "clip": true},
  "encoding": {
   "x": {"field": "epoch", "type": "quantitative", "scale": {"domain": [-2.46, 51.26], "nice": false, "zero": false},
     "axis": {"title": "epoch", "format": "d", "values": [-2,-1,0,1,2,3,4,5,6,7,8,9,10,11,12,13,14,15,16,17,18,19,20,21,22,23,24,25,26,27,28,29,30,31,32,33,34,35,36,37,38,39,40,41,42,43,44,45,46,47,48,49,50,51],
       "labelExpr": "datum.value % 5 === 0 ? datum.label : ''",
       "tickSize": {"condition": {"test": "datum.value % 5 === 0", "value": 3.5}, "value": 2}}},
   "y": {"field": "value", "type": "quantitative", "scale": {"domain": [0.057, 0.726], "nice": false, "zero": false},
     "axis": {"title": "loss", "labelPadding": 5, "values": [0.06,0.08,0.1,0.12,0.14,0.16,0.18,0.2,0.22,0.24,0.26,0.28,0.3,0.32,0.34,0.36,0.38,0.4,0.42,0.44,0.46,0.48,0.5,0.52,0.54,0.56,0.58,0.6,0.62,0.64,0.66,0.68,0.7,0.72],
       "labelExpr": "round(datum.value*100) % 10 === 0 ? format(datum.value, '.1f') : ''",
       "tickSize": {"condition": {"test": "round(datum.value*100) % 10 === 0", "value": 3.5}, "value": 2}}},
   "color": {"field": "series", "type": "nominal", "scale": {"domain": ["train", "test"], "range": ["#dccb00", "#1fbf1f"]}, "legend": {"orient": "top-right"}},
   "strokeDash": {"field": "series", "type": "nominal", "scale": {"domain": ["train", "test"], "range": [[1, 0], [6, 3]]}, "legend": {"orient": "top-right"}}
  }
 }]
}
]
},
{
"resolve": {"scale": {"color": "independent", "strokeDash": "independent"}, "legend": {"color": "independent", "strokeDash": "independent"}},
"spacing": 35,
"hconcat": [
{"title": {"text": "(e)", "orient": "bottom", "font": "Liberation Serif", "fontSize": 14, "color": "#111", "offset": 3, "frame": "bounds", "anchor": "middle", "dx": 13},
 "resolve": {"scale": {"color": "independent", "strokeDash": "independent"}, "legend": {"color": "independent", "strokeDash": "independent"}},
 "vconcat": [{
  "width": 325, "height": 250,
  "title": {"text": "model accuracy"},
  "data": {"name": "e"},
  "mark": {"type": "line", "strokeWidth": 1.8, "clip": true},
  "encoding": {
   "x": {"field": "epoch", "type": "quantitative", "scale": {"domain": [-2.48, 51.4], "nice": false, "zero": false},
     "axis": {"title": "epoch", "format": "d", "values": [-2,-1,0,1,2,3,4,5,6,7,8,9,10,11,12,13,14,15,16,17,18,19,20,21,22,23,24,25,26,27,28,29,30,31,32,33,34,35,36,37,38,39,40,41,42,43,44,45,46,47,48,49,50,51],
       "labelExpr": "datum.value % 5 === 0 ? datum.label : ''",
       "tickSize": {"condition": {"test": "datum.value % 5 === 0", "value": 3.5}, "value": 2}}},
   "y": {"field": "value", "type": "quantitative", "scale": {"domain": [0.382, 0.999], "nice": false, "zero": false},
     "axis": {"title": "accuracy", "titlePadding": 7, "values": [0.4,0.42,0.44,0.46,0.48,0.5,0.52,0.54,0.56,0.58,0.6,0.62,0.64,0.66,0.68,0.7,0.72,0.74,0.76,0.78,0.8,0.82,0.84,0.86,0.88,0.9,0.92,0.94,0.96,0.98],
       "labelExpr": "round(datum.value*100) % 10 === 0 ? format(datum.value, '.1f') : ''",
       "tickSize": {"condition": {"test": "round(datum.value*100) % 10 === 0", "value": 3.5}, "value": 2}}},
   "color": {"field": "series", "type": "nominal", "scale": {"domain": ["train", "test"], "range": ["#3040ff", "#ff3030"]}, "legend": {"orient": "bottom-right"}},
   "strokeDash": {"field": "series", "type": "nominal", "scale": {"domain": ["train", "test"], "range": [[1, 0], [6, 3]]}, "legend": {"orient": "bottom-right"}}
  }
 }]
},
{"title": {"text": "(f)", "orient": "bottom", "font": "Liberation Serif", "fontSize": 14, "color": "#111", "offset": 3, "frame": "bounds", "anchor": "middle", "dx": 14},
 "resolve": {"scale": {"color": "independent", "strokeDash": "independent"}, "legend": {"color": "independent", "strokeDash": "independent"}},
 "vconcat": [{
  "width": 336, "height": 245,
  "title": {"text": "model loss"},
  "data": {"name": "f"},
  "mark": {"type": "line", "strokeWidth": 1.8, "clip": true},
  "encoding": {
   "x": {"field": "epoch", "type": "quantitative", "scale": {"domain": [-2.54, 51.9], "nice": false, "zero": false},
     "axis": {"title": "epoch", "format": "d", "values": [-2,-1,0,1,2,3,4,5,6,7,8,9,10,11,12,13,14,15,16,17,18,19,20,21,22,23,24,25,26,27,28,29,30,31,32,33,34,35,36,37,38,39,40,41,42,43,44,45,46,47,48,49,50,51],
       "labelExpr": "datum.value % 5 === 0 ? datum.label : ''",
       "tickSize": {"condition": {"test": "datum.value % 5 === 0", "value": 3.5}, "value": 2}}},
   "y": {"field": "value", "type": "quantitative", "scale": {"domain": [0.064, 0.729], "nice": false, "zero": false},
     "axis": {"title": "loss", "labelPadding": 5, "values": [0.08,0.1,0.12,0.14,0.16,0.18,0.2,0.22,0.24,0.26,0.28,0.3,0.32,0.34,0.36,0.38,0.4,0.42,0.44,0.46,0.48,0.5,0.52,0.54,0.56,0.58,0.6,0.62,0.64,0.66,0.68,0.7,0.72],
       "labelExpr": "round(datum.value*100) % 10 === 0 ? format(datum.value, '.1f') : ''",
       "tickSize": {"condition": {"test": "round(datum.value*100) % 10 === 0", "value": 3.5}, "value": 2}}},
   "color": {"field": "series", "type": "nominal", "scale": {"domain": ["train", "test"], "range": ["#dccb00", "#1fbf1f"]}, "legend": {"orient": "top-right"}},
   "strokeDash": {"field": "series", "type": "nominal", "scale": {"domain": ["train", "test"], "range": [[1, 0], [6, 3]]}, "legend": {"orient": "top-right"}}
  }
 }]
}
]
}
]
}
